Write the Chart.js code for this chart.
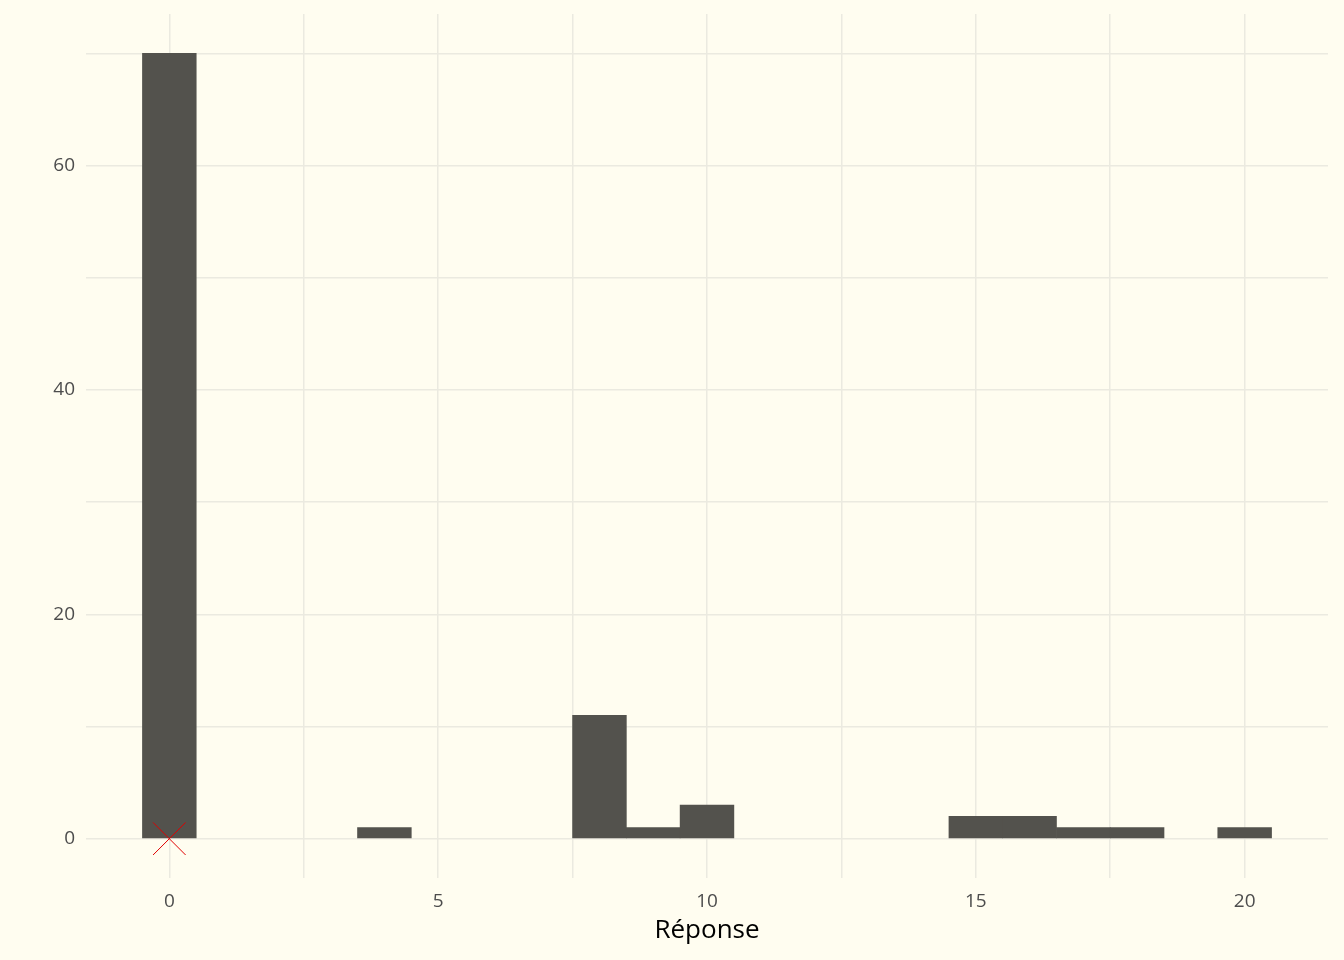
<!DOCTYPE html>
<html>
<head>
<meta charset="utf-8">
<script src="https://cdn.jsdelivr.net/npm/chart.js@4"></script>
<style>
  html, body { margin: 0; padding: 0; background: #fffdf0; }
  #wrap { width: 1344px; height: 960px; }
</style>
</head>
<body>
<div id="wrap"><canvas id="chart"></canvas></div>
<script>
// histogram bins (width 1, centred on each integer answer)
const bins = [0, 1, 2, 3, 4, 5, 6, 7, 8, 9, 10, 11, 12, 13, 14, 15, 16, 17, 18, 19, 20];
const counts = [70, 0, 0, 0, 1, 0, 0, 0, 11, 1, 3, 0, 0, 0, 0, 2, 2, 1, 1, 0, 1];
const marker = [{ x: 0, y: 0 }];
const xLabels = [0, 5, 10, 15, 20];
const yLabels = [0, 20, 40, 60];

const tickFont = { family: '"Open Sans", sans-serif', size: 19 };

new Chart(document.getElementById('chart'), {
	data: {
		datasets: [
			{
				type: 'scatter',
				data: marker,
				pointStyle: 'crossRot',
				pointRadius: 23,
				borderColor: '#e00000',
				borderWidth: 1,
				order: 0
			},
			{
				type: 'bar',
				// empty bins left out so no hairline is drawn at zero
				data: bins.map((b, i) => ({ x: b, y: counts[i] || null })),
				backgroundColor: '#53524d',
				borderWidth: 0,
				barPercentage: 1,
				categoryPercentage: 1,
				order: 1
			}
		]
	},
	options: {
		responsive: true,
		maintainAspectRatio: false,
		animation: false,
		layout: { autoPadding: false, padding: { top: 14, right: 16, left: 0, bottom: 0 } },
		plugins: { legend: { display: false }, tooltip: { enabled: false } },
		scales: {
			x: {
				type: 'linear',
				min: -1.55,
				max: 21.55,
				offset: false,
				afterBuildTicks: (s) => { s.ticks = [0, 2.5, 5, 7.5, 10, 12.5, 15, 17.5, 20].map(v => ({ value: v })); },
				afterFit: (s) => { s.height = 82; },
				grid: { color: '#ebeae0', lineWidth: 1.5, drawTicks: false, offset: false },
				border: { display: false },
				ticks: {
					padding: 12,
					color: '#4d4d4d',
					font: tickFont,
					autoSkip: false,
					maxRotation: 0,
					callback: (v) => xLabels.includes(v) ? String(v) : ''
				},
				title: {
					display: true,
					text: 'Réponse',
					color: '#000',
					font: { family: '"Open Sans", sans-serif', size: 26 },
					padding: { top: 0, bottom: 14 }
				}
			},
			y: {
				min: -3.5,
				max: 73.5,
				afterBuildTicks: (s) => { s.ticks = [0, 10, 20, 30, 40, 50, 60, 70].map(v => ({ value: v })); },
				afterFit: (s) => { s.width = 86; s.paddingTop = 0; s.paddingBottom = 0; },
				grid: { color: '#ebeae0', lineWidth: 1.5, drawTicks: false },
				border: { display: false },
				ticks: {
					padding: 11,
					color: '#4d4d4d',
					font: tickFont,
					callback: (v) => yLabels.includes(v) ? String(v) : ''
				}
			}
		}
	}
});
</script>
</body>
</html>
